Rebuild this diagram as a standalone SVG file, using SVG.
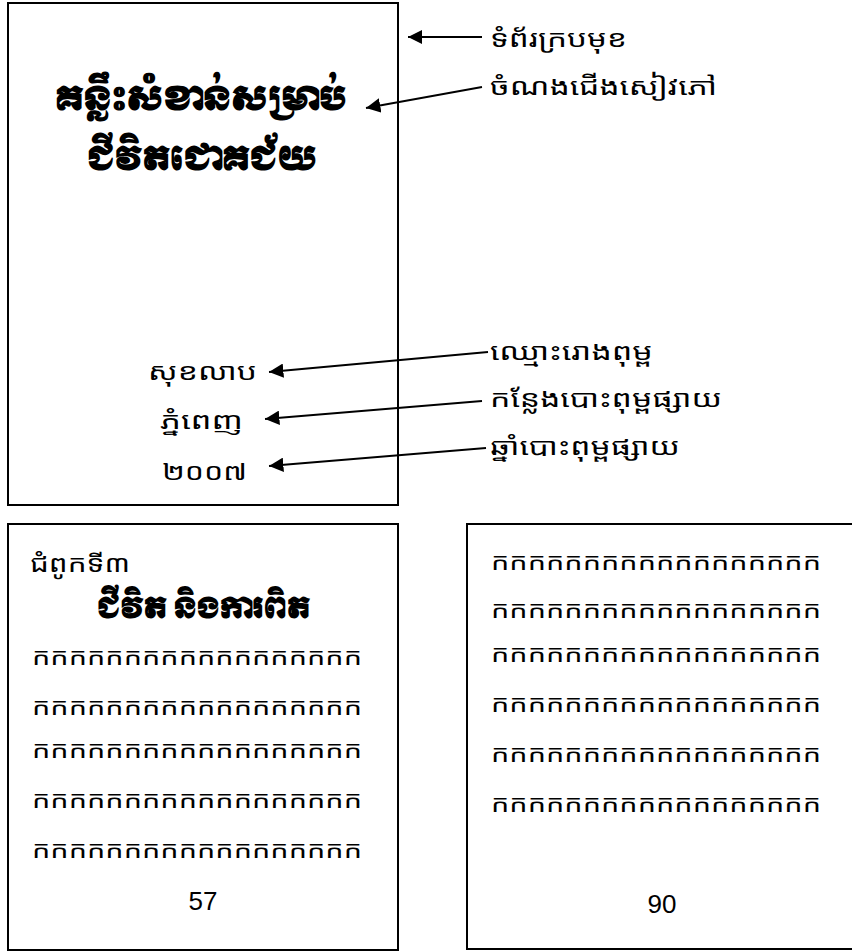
<svg xmlns="http://www.w3.org/2000/svg" width="852" height="951" viewBox="0 0 852 951">
<defs>
<style>
.box{fill:#fff;stroke:#000;stroke-width:2}
.km{font-family:"Noto Sans Khmer","Noto Serif Khmer","Khmer OS","Khmer OS System","Hanuman","Battambang","DejaVu Sans",sans-serif;font-size:24px;fill:#000}
.kb{font-family:"Moul","Noto Sans Khmer","Noto Serif Khmer","Khmer OS Muol Light","DejaVu Sans",sans-serif;font-weight:bold;fill:#000}
.num{font-family:"Liberation Sans",Arial,sans-serif;font-size:26px;fill:#000}
.con{stroke:#000;stroke-width:1.8;fill:none;marker-end:url(#ah)}
</style>
<marker id="ah" viewBox="0 0 10 10" refX="10" refY="5" markerWidth="8" markerHeight="8" markerUnits="strokeWidth" orient="auto">
<path d="M0,0 L10,5 L0,10 z" fill="#000"/>
</marker>
</defs>
<rect width="852" height="951" fill="#fff"/>
<g id="cover">
<rect class="box" x="8" y="3" width="390" height="502"/>
<text class="kb" x="55" y="110" font-size="32" textLength="292" lengthAdjust="spacingAndGlyphs">គន្លឹះសំខាន់សម្រាប់</text>
<text class="kb" x="87" y="170" font-size="32" textLength="230" lengthAdjust="spacingAndGlyphs">ជីវិតជោគជ័យ</text>
<text class="km" x="148" y="380" textLength="109" lengthAdjust="spacingAndGlyphs">សុខលាប</text>
<text class="km" x="160" y="429" textLength="83" lengthAdjust="spacingAndGlyphs">ភ្នំពេញ</text>
<text class="km" x="162" y="480" textLength="85" lengthAdjust="spacingAndGlyphs">២០០៧</text>
</g>
<g id="labels">
<text class="km" x="490" y="47" textLength="137" lengthAdjust="spacingAndGlyphs">ទំព័រក្របមុខ</text>
<text class="km" x="490" y="95" textLength="227" lengthAdjust="spacingAndGlyphs">ចំណងជើងសៀវភៅ</text>
<text class="km" x="490" y="360" textLength="163" lengthAdjust="spacingAndGlyphs">ឈ្មោះរោងពុម្ព</text>
<text class="km" x="490" y="407" textLength="232" lengthAdjust="spacingAndGlyphs">កន្លែងបោះពុម្ពផ្សាយ</text>
<text class="km" x="490" y="455" textLength="190" lengthAdjust="spacingAndGlyphs">ឆ្នាំបោះពុម្ពផ្សាយ</text>
</g>
<g id="page57">
<rect class="box" x="8" y="524" width="390" height="426"/>
<text class="km" x="30" y="572" textLength="100" lengthAdjust="spacingAndGlyphs">ជំពូកទី៣</text>
<text class="kb" x="97" y="618" font-size="28" textLength="213" lengthAdjust="spacingAndGlyphs">ជីវិត និងការពិត</text>
<text class="km" x="32" y="665" textLength="330" lengthAdjust="spacingAndGlyphs">កកកកកកកកកកកកកកកកកក</text>
<text class="km" x="32" y="715" textLength="330" lengthAdjust="spacingAndGlyphs">កកកកកកកកកកកកកកកកកក</text>
<text class="km" x="32" y="758" textLength="330" lengthAdjust="spacingAndGlyphs">កកកកកកកកកកកកកកកកកក</text>
<text class="km" x="32" y="808" textLength="330" lengthAdjust="spacingAndGlyphs">កកកកកកកកកកកកកកកកកក</text>
<text class="km" x="32" y="858" textLength="330" lengthAdjust="spacingAndGlyphs">កកកកកកកកកកកកកកកកកក</text>
<text class="num" x="203" y="910" text-anchor="middle">57</text>
</g>
<g id="page90">
<rect class="box" x="467" y="524" width="400" height="425"/>
<text class="km" x="491" y="570" textLength="330" lengthAdjust="spacingAndGlyphs">កកកកកកកកកកកកកកកកកក</text>
<text class="km" x="491" y="618" textLength="330" lengthAdjust="spacingAndGlyphs">កកកកកកកកកកកកកកកកកក</text>
<text class="km" x="491" y="662" textLength="330" lengthAdjust="spacingAndGlyphs">កកកកកកកកកកកកកកកកកក</text>
<text class="km" x="491" y="712" textLength="330" lengthAdjust="spacingAndGlyphs">កកកកកកកកកកកកកកកកកក</text>
<text class="km" x="491" y="762" textLength="330" lengthAdjust="spacingAndGlyphs">កកកកកកកកកកកកកកកកកក</text>
<text class="km" x="491" y="812" textLength="330" lengthAdjust="spacingAndGlyphs">កកកកកកកកកកកកកកកកកក</text>
<text class="num" x="662" y="913" text-anchor="middle">90</text>
</g>
<g id="connectors">
<line class="con" x1="482" y1="37" x2="408" y2="37"/>
<line class="con" x1="482" y1="87" x2="366" y2="108"/>
<line class="con" x1="488" y1="352" x2="269" y2="372"/>
<line class="con" x1="482" y1="401" x2="265" y2="419"/>
<line class="con" x1="486" y1="448" x2="269" y2="466"/>
</g>
</svg>
